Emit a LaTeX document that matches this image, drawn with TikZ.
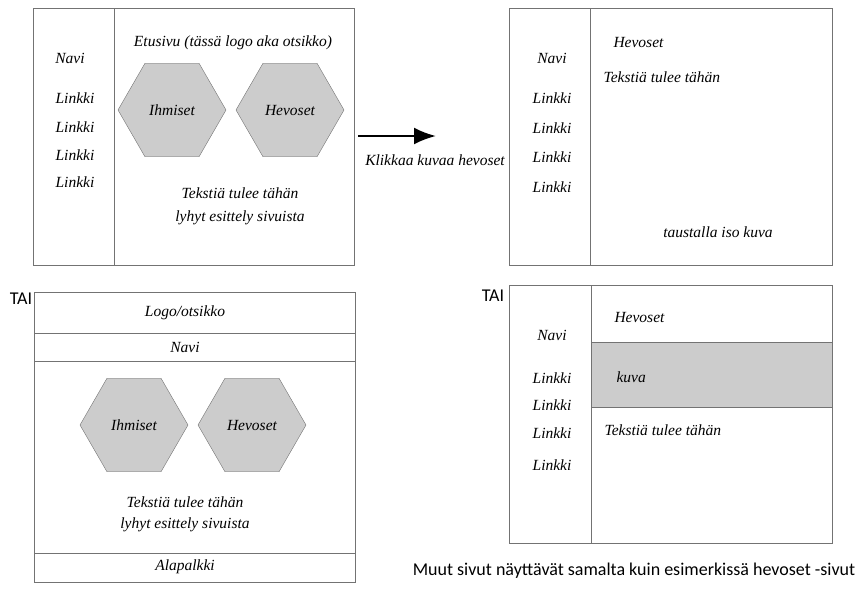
\documentclass[tikz,border=0pt]{standalone}
\usepackage{fontspec}
\setmainfont{Liberation Serif}
\newfontfamily\calibri{Carlito}
\usetikzlibrary{shapes.geometric,arrows.meta}
\begin{document}
\begin{tikzpicture}[x=1pt,y=-1pt,
        every node/.style={font=\itshape\fontsize{15.5}{17}\selectfont},
        page/.style={draw=black!55,line width=0.7pt},
        hexa/.style={regular polygon,regular polygon sides=6,minimum size=108pt,
            inner sep=0pt,draw=black!55,fill=black!20},
        plain/.style={font=\calibri\fontsize{18}{20}\selectfont}]
        \useasboundingbox (0,0) rectangle (858,592);
        % etusivu
        \draw[page] (33,8) rectangle (354,265) (114,8) -- (114,265);
        \node (etusivu) at (233,43) {Etusivu (tässä logo aka otsikko)};
        \node (navi1) at (70,58) {Navi};
        \foreach \y [count=\i] in {98,127,155,182}
            \node (linkki1\i) at (75,\y) {Linkki};
        \node[hexa] (ihmiset1) at (172,110) {Ihmiset};
        \node[hexa] (hevoset1) at (290,110) {Hevoset};
        \node (teksti1) at (240,193) {Tekstiä tulee tähän};
        \node (lyhyt1) at (240,218) {lyhyt esittely sivuista};
        % nuoli
        \coordinate (klik) at (358,136);
        \coordinate (klak) at (436,136);
        \draw[-{Latex[length=22pt,width=17pt]},line width=2.5pt] (klik) -- (klak);
        \node (klikkaa) at (435,160) {Klikkaa kuvaa hevoset};
        % hevoset-sivu
        \draw[page] (509,8) rectangle (832,265) (590,8) -- (590,265);
        \node[anchor=west] (hevoset2) at (610,42) {Hevoset};
        \node (navi2) at (552,58) {Navi};
        \node[anchor=west] (teksti2) at (600,77) {Tekstiä tulee tähän};
        \foreach \y [count=\i] in {98,128,157,187}
            \node (linkki2\i) at (552,\y) {Linkki};
        \node (tausta) at (718,232) {taustalla iso kuva};
        % etusivu, toinen malli
        \node[plain] (tai1) at (21,299) {TAI};
        \draw[page] (34,292) rectangle (355,582);
        \draw[page] (34,333) rectangle (355,361);
        \draw[page] (34,553) rectangle (355,582);
        \node (logo) at (185,313) {Logo/otsikko};
        \node (navi3) at (185,347) {Navi};
        \node[hexa] (ihmiset3) at (134,425) {Ihmiset};
        \node[hexa] (hevoset3) at (252,425) {Hevoset};
        \node (teksti3) at (185,502) {Tekstiä tulee tähän};
        \node (lyhyt3) at (185,525) {lyhyt esittely sivuista};
        \node (alapalkki) at (185,567) {Alapalkki};
        % hevoset-sivu, toinen malli
        \node[plain] (tai2) at (493,296) {TAI};
        \draw[page] (509,285) rectangle (832,543) (591,285) -- (591,543);
        \draw[page,fill=black!20] (591,342) rectangle (832,407);
        \node[anchor=west] (hevoset4) at (611,317) {Hevoset};
        \node (navi4) at (552,335) {Navi};
        \node[anchor=west] (kuva) at (613,377) {kuva};
        \node[anchor=west] (teksti4) at (601,430) {Tekstiä tulee tähän};
        \foreach \y [count=\i] in {378,405,433,465}
            \node (linkki4\i) at (552,\y) {Linkki};
        \node[plain] (muut) at (634,571) {Muut sivut näyttävät samalta kuin esimerkissä hevoset -sivut};
\end{tikzpicture}
\end{document}
